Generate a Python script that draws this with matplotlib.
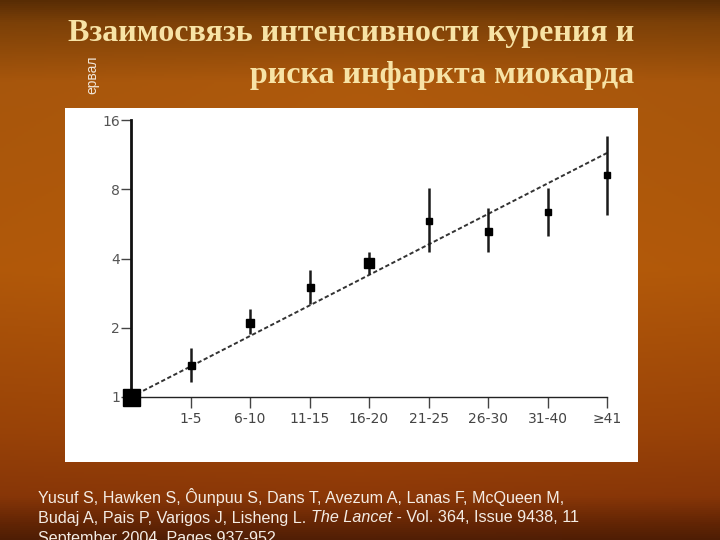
import numpy as np
import matplotlib
matplotlib.use('Agg')
from matplotlib import pyplot as plt
import matplotlib.patches as patches
import matplotlib.ticker as mticker

#================================== data ==================================
categories = ['', '1-5', '6-10', '11-15', '16-20', '21-25', '26-30', '31-40', '\u226541']
odds_ratio = [1.0, 1.38, 2.10, 3.02, 3.84, 5.80, 5.25, 6.35, 9.20]
ci_low = [1.0, 1.16, 1.88, 2.54, 3.44, 4.25, 4.25, 4.99, 6.16]
ci_high = [1.0, 1.63, 2.42, 3.58, 4.29, 8.09, 6.61, 8.09, 13.6]
trend_ends = [1.0, 11.5]
y_ticks = [1, 2, 4, 8, 16]

title_lines = ['Взаимосвязь интенсивности курения и', 'риска инфаркта миокарда']
# each line is a list of (text, italic) pieces
cite_lines = [[('Yusuf S, Hawken S, Ôunpuu S, Dans T, Avezum A, Lanas F, McQueen M,', False)],
              [('Budaj A, Pais P, Varigos J, Lisheng L. ', False), ('The Lancet', True),
               (' - Vol. 364, Issue 9438, 11', False)],
              [('September 2004, Pages 937-952', False)]]

# marker size (pixels) for each point
marker_px = [17, 7, 8, 7, 10, 6, 7, 6, 6]

W, H = 720, 540
fig = plt.figure(figsize=(7.2, 5.4), dpi=100)

#-------------------- slide background --------------------
bg = fig.add_axes([0, 0, 1, 1])
bg.set_xlim(0, W)
bg.set_ylim(H, 0)
bg.axis('off')
yy = np.linspace(0, 1, 270)[:, None]
xx = np.linspace(0, 1, 360)[None, :]
stops = np.array([0.0, 0.04, 0.15, 0.5, 0.8, 0.92, 0.97, 1.0])
cols = np.array([[0.36, 0.18, 0.02],
                 [0.50, 0.26, 0.03],
                 [0.68, 0.35, 0.05],
                 [0.72, 0.36, 0.04],
                 [0.62, 0.27, 0.03],
                 [0.55, 0.22, 0.03],
                 [0.40, 0.15, 0.02],
                 [0.32, 0.12, 0.02]])
grad = np.zeros((270, 360, 3))
for c in range(3):
    grad[:, :, c] = np.interp(yy, stops, cols[:, c]) * (1.0 - 0.07 * np.abs(xx - 0.5))
bg.imshow(grad, extent=[0, W, H, 0], aspect='auto', zorder=0)

# white panel behind the chart
bg.add_patch(patches.Rectangle((65, 108), 573, 354, facecolor='white', edgecolor='none', zorder=1))

# title
for i, line in enumerate(title_lines):
    bg.text(634, 33 + i * 42, line, ha='right', va='center', fontsize=23, fontweight='bold',
            family='Liberation Serif', color='#f7e3a6', zorder=2)
bg.text(92, 75, 'ервал', rotation=90, ha='center', va='center', fontsize=10,
        family='Liberation Sans', color='#f2e6d8', zorder=2)

# citation
for i, pieces in enumerate(cite_lines):
    prev = None
    for txt, ital in pieces:
        style = 'italic' if ital else 'normal'
        if prev is None:
            prev = bg.text(38, 497 + i * 21, txt, ha='left', va='center', fontsize=11.6,
                           family='Liberation Sans', style=style, color='#f4ece4', zorder=2)
        else:
            prev = bg.annotate(txt, xy=(1, 0.5), xycoords=prev, ha='left', va='center',
                               fontsize=11.6, family='Liberation Sans', style=style,
                               color='#f4ece4', zorder=2)

#-------------------- chart --------------------
ax = fig.add_axes([131 / W, 1 - 397 / H, 476 / W, 277 / H])
ax.set_facecolor('none')
x = np.arange(len(categories))
ax.set_yscale('log', base=2)
ax.set_ylim(1, 16)
ax.set_xlim(0, len(categories) - 1)

ax.plot([0, len(categories) - 1], trend_ends, color='#333333', lw=1.4, dashes=(2.2, 1.3),
        clip_on=False, zorder=2)
ax.vlines(x, ci_low, ci_high, color='#1a1a1a', lw=1.8, clip_on=False, zorder=3)
for xi, yi, ms in zip(x, odds_ratio, marker_px):
    ax.plot(xi, yi, marker='s', color='black', markersize=ms * 0.72, clip_on=False, zorder=4)

for s in ['top', 'right']:
    ax.spines[s].set_visible(False)
ax.spines['left'].set_linewidth(2.0)
ax.spines['bottom'].set_linewidth(1.0)
ax.spines['left'].set_color('#111111')
ax.spines['bottom'].set_color('#222222')

ax.set_yticks(y_ticks)
ax.yaxis.set_major_formatter(mticker.FixedFormatter([str(t) for t in y_ticks]))
ax.yaxis.set_minor_locator(mticker.NullLocator())
ax.tick_params(axis='y', direction='out', length=7, width=1.0, color='#444444',
               labelsize=10, labelcolor='#555555', pad=1)
ax.set_xticks(x[1:])
ax.set_xticklabels(categories[1:])
ax.tick_params(axis='x', direction='out', length=8, width=1.0, color='#444444',
               labelsize=10, labelcolor='#444444', pad=3)

plt.savefig('out.png', dpi=100)
